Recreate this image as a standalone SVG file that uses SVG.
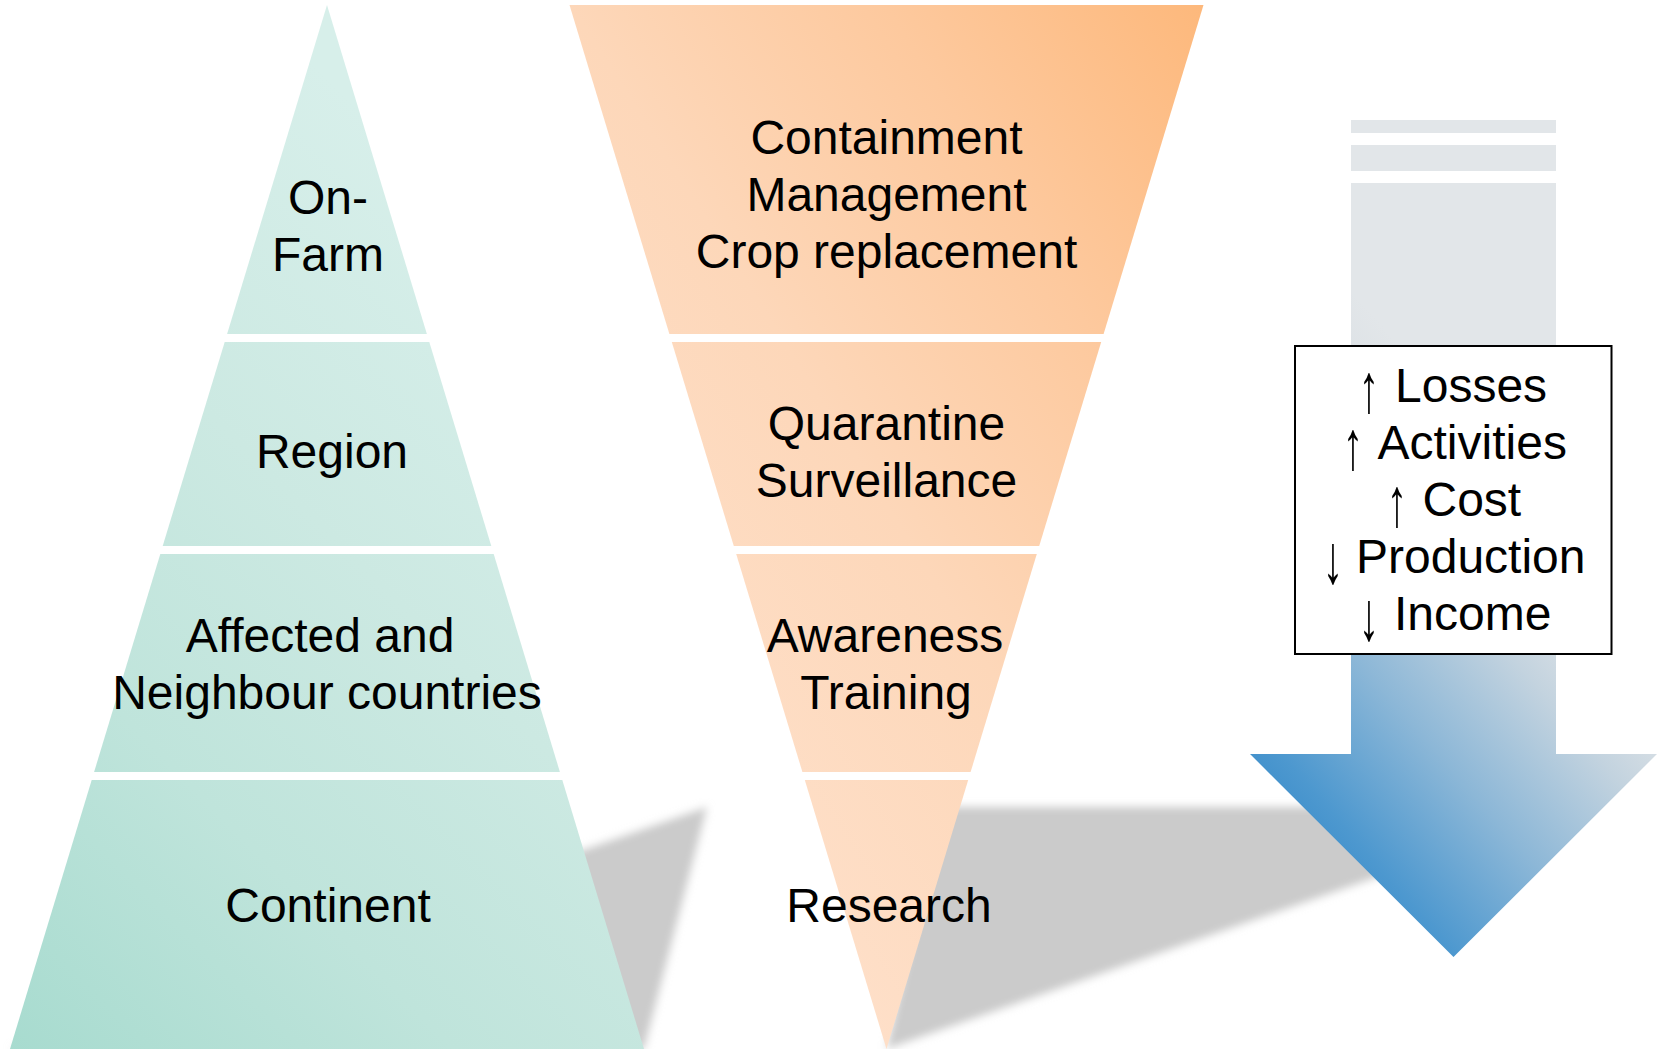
<svg xmlns="http://www.w3.org/2000/svg" width="1659" height="1049" viewBox="0 0 1659 1049">
  <defs>
    <!-- teal wash for the spatial-scale pyramid -->
    <linearGradient id="teal" gradientUnits="userSpaceOnUse" x1="0" y1="1049" x2="650" y2="400">
      <stop offset="0" stop-color="#a7dbcf"/>
      <stop offset="0.35" stop-color="#bfe4db"/>
      <stop offset="0.65" stop-color="#cce9e2"/>
      <stop offset="1" stop-color="#d7efea"/>
    </linearGradient>
    <!-- peach wash for the response funnel -->
    <linearGradient id="peach" gradientUnits="userSpaceOnUse" x1="325" y1="160" x2="1027" y2="-283">
      <stop offset="0" stop-color="#fedfc8"/>
      <stop offset="0.35" stop-color="#fdd7b9"/>
      <stop offset="0.67" stop-color="#fdc99e"/>
      <stop offset="1" stop-color="#fdb87b"/>
    </linearGradient>
    <!-- grey-to-blue fill of the impact arrow -->
    <linearGradient id="blue" gradientUnits="userSpaceOnUse" x1="1620" y1="600" x2="1320" y2="860">
      <stop offset="0" stop-color="#e2e6e9"/>
      <stop offset="0.12" stop-color="#dde2e6"/>
      <stop offset="0.3" stop-color="#c3d3df"/>
      <stop offset="0.6" stop-color="#8cb7d7"/>
      <stop offset="0.9" stop-color="#4d98cf"/>
      <stop offset="1" stop-color="#3f8fcb"/>
    </linearGradient>
    <filter id="soft" x="-10%" y="-20%" width="120%" height="140%">
      <feGaussianBlur stdDeviation="4"/>
    </filter>
  </defs>
  <style>
    text { font-family: "Liberation Sans", Arial, sans-serif; font-size: 48px; fill: #000; text-anchor: middle; }
    text.word { text-anchor: start; }
    .level { fill: url(#teal); }
    .measure { fill: url(#peach); }
    .shadow { fill: #cbcbcb; }
  </style>

  <rect width="1659" height="1049" fill="#fff"/>

  <!-- cast shadows lying behind the pyramid and the funnel -->
  <g id="shadows" filter="url(#soft)">
    <polygon class="shadow" points="10,1049 644,1049 707,807"/>
    <polygon class="shadow" points="886.5,1049 942.5,807 1576.5,807"/>
  </g>

  <!-- spatial scale pyramid -->
  <g id="level-on-farm">
    <polygon class="level" points="327,5 426.9,334 227.1,334"/>
    <text x="328" y="214">On-</text>
    <text x="328" y="271">Farm</text>
  </g>
  <g id="level-region">
    <polygon class="level" points="224.7,342 429.3,342 491.3,546 162.7,546"/>
    <text x="332" y="468">Region</text>
  </g>
  <g id="level-countries">
    <polygon class="level" points="160.3,554 493.7,554 559.9,772 94.1,772"/>
    <text x="320" y="652">Affected and</text>
    <text x="327" y="709">Neighbour countries</text>
  </g>
  <g id="level-continent">
    <polygon class="level" points="91.7,780 562.3,780 644,1049 10,1049"/>
    <text x="328" y="922">Continent</text>
  </g>

  <!-- response funnel -->
  <g id="measure-containment">
    <polygon class="measure" points="569.5,5 1203.5,5 1103.6,334 669.4,334"/>
    <text x="886.5" y="153.5">Containment</text>
    <text x="886.5" y="210.5">Management</text>
    <text x="886.5" y="267.5">Crop replacement</text>
  </g>
  <g id="measure-quarantine">
    <polygon class="measure" points="671.8,342 1101.2,342 1039.2,546 733.8,546"/>
    <text x="886.5" y="440">Quarantine</text>
    <text x="886.5" y="497">Surveillance</text>
  </g>
  <g id="measure-awareness">
    <polygon class="measure" points="736.2,554 1036.8,554 970.6,772 802.4,772"/>
    <text x="885" y="652">Awareness</text>
    <text x="886" y="709">Training</text>
  </g>
  <g id="measure-research">
    <polygon class="measure" points="804.8,780 968.2,780 886.5,1049"/>
    <text x="889" y="922">Research</text>
  </g>

  <!-- downward impact arrow with striped tail -->
  <g id="impact-arrow" fill="url(#blue)">
    <rect x="1351" y="120" width="205" height="13"/>
    <rect x="1351" y="145" width="205" height="26"/>
    <polygon points="1351,183 1556,183 1556,754 1657,754 1453.5,957 1250,754 1351,754"/>
  </g>

  <!-- impact list: the trend symbols are stretched to run from cap height to below the baseline -->
  <g id="impact-box">
    <rect x="1295" y="346" width="316.5" height="308" fill="#fff" stroke="#000" stroke-width="2"/>
    <text transform="translate(1369,412) scale(0.85,1.45)">↑</text>
    <text class="word" x="1395" y="402">Losses</text>
    <text transform="translate(1353,469) scale(0.85,1.45)">↑</text>
    <text class="word" x="1377.5" y="459">Activities</text>
    <text transform="translate(1397,526) scale(0.85,1.45)">↑</text>
    <text class="word" x="1422.5" y="516">Cost</text>
    <text transform="translate(1333,583) scale(0.85,1.45)">↓</text>
    <text class="word" x="1356" y="573">Production</text>
    <text transform="translate(1369,640) scale(0.85,1.45)">↓</text>
    <text class="word" x="1394" y="630">Income</text>
  </g>
</svg>
